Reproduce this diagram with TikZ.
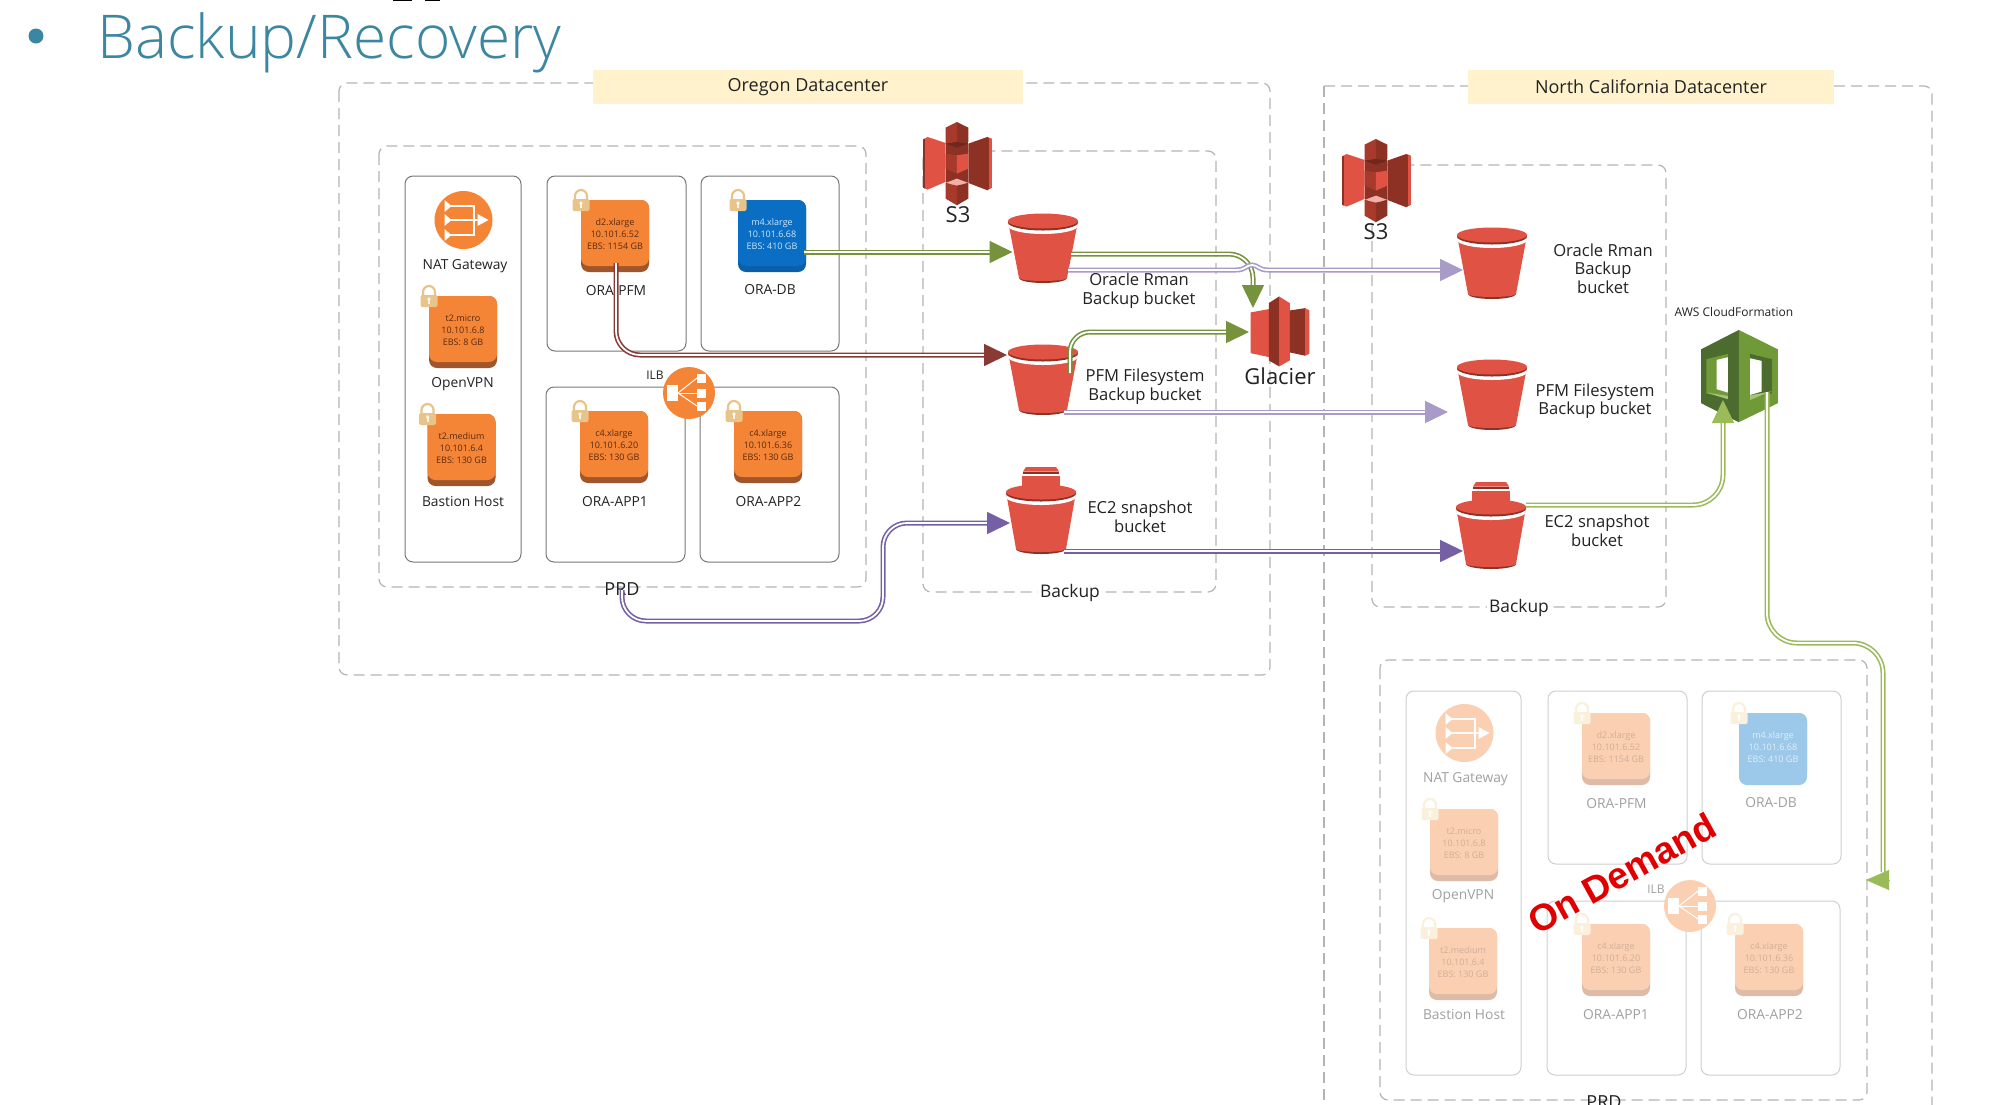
\documentclass[tikz,border=0pt]{standalone}
\usepackage{fontspec}
\usetikzlibrary{arrows.meta}
\setmainfont{Open Sans}
\newfontfamily\titlefont{Open Sans Light}
\newfontfamily\demandfont{Liberation Sans}
\definecolor{awsred}{HTML}{E05243}
\definecolor{awsdark}{HTML}{8C3123}
\definecolor{awsmid}{HTML}{A83A2B}
\definecolor{awspink}{HTML}{F2B0A9}
\definecolor{orface}{HTML}{F58536}
\definecolor{orshade}{HTML}{A0562A}
\definecolor{orlock}{HTML}{E8C48A}
\definecolor{ortext}{HTML}{5A2A10}
\definecolor{blface}{HTML}{0A6EC4}
\definecolor{blshade}{HTML}{0A5FA8}
\definecolor{bllock}{HTML}{E8C48A}
\definecolor{bltext}{HTML}{CFE6FA}
\definecolor{faface}{HTML}{FBD0B2}
\definecolor{fashade}{HTML}{DDBBA6}
\definecolor{falock}{HTML}{FBF0DC}
\definecolor{fatext}{HTML}{CFAE98}
\definecolor{fbface}{HTML}{9CC8E9}
\definecolor{fbshade}{HTML}{9CC8E9}
\definecolor{fblock}{HTML}{FBF0DC}
\definecolor{fbtext}{HTML}{E2EFF9}
\definecolor{headband}{HTML}{FFF2CC}
\definecolor{dashgray}{HTML}{B4B4B4}
\definecolor{boxgray}{HTML}{777777}
\definecolor{fadebox}{HTML}{CFCFCF}
\definecolor{txt}{HTML}{222222}
\definecolor{fadetxt}{HTML}{A0A0A0}
\definecolor{titleblue}{HTML}{3B86A0}
\definecolor{cgreen}{HTML}{76923C}
\definecolor{clgreen}{HTML}{9BBB59}
\definecolor{clpurple}{HTML}{A99BC8}
\definecolor{cpurple}{HTML}{7560A5}
\definecolor{cred}{HTML}{8A3A34}
\definecolor{cfdark}{HTML}{4C6B2F}
\definecolor{cflight}{HTML}{6F9A37}
\definecolor{cfpale}{HTML}{A5C478}
\tikzset{
  zone/.style={draw=dashgray,line width=.6pt,dash pattern=on 5.5pt off 3pt,rounded corners=4pt},
  hostbox/.style={draw=boxgray,line width=.5pt,rounded corners=4pt},
  fadehost/.style={draw=fadebox,line width=.5pt,rounded corners=4pt},
  band/.style={fill=headband,draw=none,minimum height=16.8pt,inner sep=0pt,font=\fontsize{9}{10}\selectfont,text=txt},
  lab/.style={font=\fontsize{6.9}{8.5}\selectfont,text=txt,inner sep=0pt},
  flab/.style={lab,text=fadetxt},
  blab/.style={font=\fontsize{8.3}{9.3}\selectfont,text=txt,inner sep=0pt,align=center},
  tinylab/.style={font=\fontsize{6}{7}\selectfont,text=txt,inner sep=0pt},
  conn/.style={line width=.8pt,double=white,double distance=.9pt,-{Triangle[length=11.5pt,width=11pt]},rounded corners=#1},
  conn/.default=12pt,
}
% name, left, top, colour prefix, text
\newcommand\hostinst[5]{%
  \fill[#4shade,rounded corners=4pt] (#2,#3) rectangle ++(68,72);
  \fill[#4face,rounded corners=4pt] (#2,#3) rectangle ++(68,66);
  \node[inner sep=0pt,align=center,text=#4text,font=\fontsize{4.5}{6}\selectfont] (#1) at (#2+34,#3+34.5) {#5};
  \draw[#4lock,line width=1.1pt] (#2-6,#3) -- (#2-6,#3-4) arc[start angle=180,end angle=360,radius=6] -- (#2+6,#3);
  \fill[#4lock,rounded corners=1pt] (#2-8.5,#3-1) rectangle ++(17,12);
  \fill[white,opacity=.8] (#2,#3+3) circle[radius=1.8];
  \fill[white,opacity=.8] (#2-1,#3+3) rectangle ++(2,5);
}
\newcommand\natglyph[3]{%
  \fill[#3] (#1,#2) circle[radius=29];
  \begin{scope}[shift={(#1,#2)}]
    \draw[white,line width=1pt] (-13,-14) -- (10,-14) -- (10,15) -- (-13,15) (-13,0) -- (15,0);
    \fill[white] (14,-6) -- (25,0) -- (14,6) -- cycle;
    \foreach \r in {-14,0,15} \fill[white] (-19,\r-6) -- (-12,\r) -- (-19,\r+6) -- cycle;
  \end{scope}
}
\newcommand\ilbglyph[3]{%
  \fill[#3] (#1,#2) circle[radius=26];
  \begin{scope}[shift={(#1,#2)}]
    \fill[white] (-22,-8) rectangle (-11,8);
    \foreach \r in {-15,0,13} {
      \fill[white] (8,\r-4.5) rectangle (17,\r+4.5);
      \draw[white,line width=.5pt] (-11,0) -- (8,\r);
    }
  \end{scope}
}
\newcommand\bucket[4]{% cx, cy, bottom, half width of bottom
  \fill[awsdark] (#1-#4,#3-5) arc[start angle=180,end angle=0,x radius=#4,y radius=5] -- cycle;
  \fill[awsred] (#1-35,#2) -- (#1-#4,#3-5) arc[start angle=180,end angle=0,x radius=#4,y radius=3] -- (#1+35,#2) -- cycle;
  \begin{scope}
    \clip (#1-35,#2) -- (#1-#4,#3-5) -- (#1+#4,#3-5) -- (#1+35,#2) -- (#1+35,#2-12) -- (#1-35,#2-12) -- cycle;
    \fill[white] (#1,#2+4) ellipse[x radius=36,y radius=9];
  \end{scope}
  \fill[awsdark] (#1,#2+1.5) ellipse[x radius=35,y radius=8];
  \fill[awsred] (#1,#2) ellipse[x radius=35,y radius=7.5];
}
\newcommand\lid[2]{%
  \fill[awsred] (#1-19,#2-18) rectangle (#1+19,#2);
  \fill[white] (#1-19,#2-18.5) rectangle (#1+19,#2-16.5);
  \fill[awsdark] (#1-18,#2-20.5) rectangle (#1+18,#2-18.5);
  \fill[awsred] (#1-15,#2-25) -- (#1+15,#2-25) -- (#1+18,#2-20.5) -- (#1-18,#2-20.5) -- cycle;
}
\newcommand\sthree[2]{%
  \begin{scope}[shift={(#1,#2)},xscale=.357,yscale=.333,shift={(-65,-65)}]
    \fill[awsred] (65,118) -- (78,110) -- (128,128) -- (128,245) -- (78,268) -- (65,262) -- cycle;
    \fill[awsdark] (65,118) -- (70,115) -- (70,265) -- (65,262) -- cycle;
    \fill[awsdark] (192,130) -- (245,110) -- (258,116) -- (258,262) -- (245,270) -- (192,248) -- cycle;
    \fill[awsred] (250,112) -- (258,116) -- (258,262) -- (250,266) -- cycle;
    \fill[awsdark] (128,120) rectangle (192,250);
    \fill[awsmid] (128,82) -- (160,65) -- (160,125) -- (128,130) -- cycle;
    \fill[awsdark] (160,65) -- (192,82) -- (192,125) -- (160,125) -- cycle;
    \fill[awsdark!80!black] (128,130) -- (160,125) -- (192,130) -- (160,142) -- cycle;
    \fill[awsmid] (128,160) -- (160,165) -- (160,220) -- (128,205) -- cycle;
    \fill[awsred] (160,165) -- (192,160) -- (192,205) -- (160,220) -- cycle;
    \fill[awspink] (128,248) -- (160,235) -- (192,248) -- (160,256) -- cycle;
    \fill[awsmid] (128,248) -- (160,256) -- (160,315) -- (128,295) -- cycle;
    \fill[awsdark] (160,256) -- (192,248) -- (192,295) -- (160,315) -- cycle;
  \end{scope}
}
\begin{document}
\begin{tikzpicture}[x=.5pt,y=-.5pt]
\useasboundingbox (0,0) rectangle (1992,1104);
\clip (0,0) rectangle (1992,1104);
\fill[white] (0,0) rectangle (1992,1104);
% title
\fill[titleblue] (36,36) ellipse[x radius=7.5,y radius=7.5];
\node[anchor=base west,inner sep=0pt,text=titleblue,font=\titlefont\fontsize{30.2}{34}\selectfont] (title) at (97,58) {Backup/Recovery};
\fill[black] (393,0) rectangle (412,1);
\fill[black] (425,0) rectangle (440,1);
% datacentre zones
\draw[zone] (339,83) rectangle (1270,675);
\draw[zone] (1324,86) -- (1324,1110);
\draw[zone] (1324,86) -- (1932,86) -- (1932,1110);
\draw[zone] (379,146) rectangle (866,587);
\draw[zone] (923,151) rectangle (1216,592);
\draw[zone] (1372,165) rectangle (1666,607);
\draw[zone] (1380,660) rectangle (1867,1100);
\node[band,minimum width=215pt] (oregon) at (808,87) {Oregon Datacenter};
\node[band,minimum width=183pt] (ncal) at (1651,87) {North California Datacenter};
% Oregon hosts
\draw[hostbox] (405,176) rectangle (521,562);
\draw[hostbox] (547,176) rectangle (686,351);
\draw[hostbox] (701,176) rectangle (839,351);
\draw[hostbox] (546,387) rectangle (685,562);
\draw[hostbox] (700,387) rectangle (839,562);
\natglyph{463.5}{220}{orface}
\node[lab] (nat) at (465,266) {NAT Gateway};
\hostinst{vpn}{429}{296}{or}{t2.micro\\10.101.6.8\\EBS: 8 GB}
\node[lab] (vpnl) at (462.5,384) {OpenVPN};
\hostinst{bast}{427.5}{414}{or}{t2.medium\\10.101.6.4\\EBS: 130 GB}
\node[lab] (bastl) at (463,501) {Bastion Host};
\hostinst{pfm}{581}{200}{or}{d2.xlarge\\10.101.6.52\\EBS: 1154 GB}
\node[lab] (pfml) at (616,291) {ORA-PFM};
\hostinst{db}{738}{200}{bl}{m4.xlarge\\10.101.6.68\\EBS: 410 GB}
\node[lab] (dbl) at (770,290) {ORA-DB};
\hostinst{app1}{580}{411}{or}{c4.xlarge\\10.101.6.20\\EBS: 130 GB}
\node[lab] (app1l) at (615,502) {ORA-APP1};
\hostinst{app2}{734}{411}{or}{c4.xlarge\\10.101.6.36\\EBS: 130 GB}
\node[lab] (app2l) at (768.5,502) {ORA-APP2};
\ilbglyph{689}{393}{orface}
\node[tinylab] (ilb) at (655,375) {ILB};
\node[font=\fontsize{9}{10}\selectfont,text=txt,inner sep=0pt] (prd) at (622,589) {PRD};
% on-demand hosts
\draw[fadehost] (1406,691) rectangle (1521,1075);
\draw[fadehost] (1548,691) rectangle (1687,864);
\draw[fadehost] (1702,691) rectangle (1841,864);
\draw[fadehost] (1547,901) rectangle (1686,1075);
\draw[fadehost] (1701,901) rectangle (1840,1075);
\natglyph{1464.5}{733}{faface}
\node[flab] (fnat) at (1465.5,779) {NAT Gateway};
\hostinst{fvpn}{1430}{809}{fa}{t2.micro\\10.101.6.8\\EBS: 8 GB}
\node[flab] (fvpnl) at (1463,896) {OpenVPN};
\hostinst{fbast}{1429}{928}{fa}{t2.medium\\10.101.6.4\\EBS: 130 GB}
\node[flab] (fbastl) at (1464,1014) {Bastion Host};
\hostinst{fpfm}{1582}{713}{fa}{d2.xlarge\\10.101.6.52\\EBS: 1154 GB}
\node[flab] (fpfml) at (1616.5,804) {ORA-PFM};
\hostinst{fdb}{1739}{713}{fb}{m4.xlarge\\10.101.6.68\\EBS: 410 GB}
\node[flab] (fdbl) at (1771,803) {ORA-DB};
\hostinst{fapp1}{1582}{924}{fa}{c4.xlarge\\10.101.6.20\\EBS: 130 GB}
\node[flab] (fapp1l) at (1616,1015) {ORA-APP1};
\hostinst{fapp2}{1735}{924}{fa}{c4.xlarge\\10.101.6.36\\EBS: 130 GB}
\node[flab] (fapp2l) at (1770,1015) {ORA-APP2};
\ilbglyph{1690}{906}{faface}
\node[tinylab,text=fadetxt] (filb) at (1656,889) {ILB};
\node[font=\fontsize{9}{10}\selectfont,text=txt,inner sep=0pt,anchor=north] (fprd) at (1604,1095) {PRD};
% S3, Glacier
\sthree{923}{122}
\node[font=\fontsize{11}{12}\selectfont,text=txt,inner sep=0pt] (s3a) at (958,215) {S3};
\sthree{1342}{139}
\node[font=\fontsize{11}{12}\selectfont,text=txt,inner sep=0pt] (s3b) at (1376,232) {S3};
\begin{scope}[shift={(900,100)},xscale=.357,yscale=.333]
  \fill[awsred] (982,638) -- (1033,628) -- (1033,772) -- (982,760) -- cycle;
  \fill[awsdark] (1033,610) -- (1062,590) -- (1062,800) -- (1033,782) -- cycle;
  \fill[awsred] (1062,590) -- (1092,610) -- (1092,782) -- (1062,800) -- cycle;
  \fill[awsdark] (1092,632) -- (1135,625) -- (1135,768) -- (1092,758) -- cycle;
  \fill[awsred] (1135,625) -- (1147,632) -- (1147,762) -- (1135,768) -- cycle;
\end{scope}
\node[font=\fontsize{11}{12}\selectfont,text=txt,inner sep=0pt] (glacier) at (1280,376) {Glacier};
% buckets
\bucket{1043}{221}{283}{24}
\bucket{1043}{352}{415}{24}
\lid{1041}{492}
\bucket{1041}{492}{554}{25}
\bucket{1492}{235}{299}{24}
\bucket{1492}{367}{430}{24}
\lid{1491}{507}
\bucket{1491}{507}{569}{25}
\node[blab] (l1) at (1139,290.5) {Oracle Rman\\Backup bucket};
\node[blab] (l2) at (1145,386.5) {PFM Filesystem\\Backup bucket};
\node[blab] (l3) at (1140,516.5) {EC2 snapshot\\bucket};
\node[blab] (r1) at (1603,268.5) {Oracle Rman\\Backup\\bucket};
\node[blab] (r2) at (1595,401) {PFM Filesystem\\Backup bucket};
\node[blab] (r3) at (1597,531) {EC2 snapshot\\bucket};
\node[font=\fontsize{8.7}{10}\selectfont,text=txt,fill=white,inner sep=1pt] (bk1) at (1070,593) {Backup};
\node[font=\fontsize{8.7}{10}\selectfont,text=txt,fill=white,inner sep=1pt] (bk2) at (1519,608) {Backup};
% CloudFormation
\node[tinylab] (cfl) at (1734,312) {AWS CloudFormation};
\begin{scope}[shift={(1400,280)},xscale=.345,yscale=.333]
  \fill[cfdark] (982,150) -- (982,427) -- (873,370) -- (873,208) -- cycle;
  \fill[cflight] (982,150) -- (982,427) -- (1095,370) -- (1095,208) -- cycle;
  \fill[cflight] (888,238) -- (950,222) -- (950,355) -- (888,340) -- cycle;
  \fill[white] (918,240) -- (950,232) -- (950,338) -- (918,328) -- cycle;
  \fill[cfpale] (888,338) -- (950,348) -- (950,358) -- cycle;
  \fill[cfdark] (1015,222) -- (1078,238) -- (1078,340) -- (1015,355) -- cycle;
  \fill[white] (1015,235) -- (1048,243) -- (1048,335) -- (1015,345) -- cycle;
  \fill[cfpale] (1015,346) -- (1078,334) -- (1015,360) -- cycle;
\end{scope}
% connector ends
\coordinate (dbout) at (804,252);
\coordinate (b1in) at (1012.5,252);
\coordinate (b1g) at (1071,254);
\coordinate (b1gc) at (1253,254);
\coordinate (glaciertop) at (1253,308);
\coordinate (b2g) at (1070,373);
\coordinate (b2gc) at (1070,332);
\coordinate (glacierl) at (1249,332);
\coordinate (pfmout) at (616,263);
\coordinate (pfmc) at (616,355);
\coordinate (b2in) at (1007,355);
\coordinate (prdout) at (622,590);
\coordinate (pc1) at (622,621);
\coordinate (pc2) at (883,621);
\coordinate (pc3) at (883,523);
\coordinate (b3in) at (1010,523);
\coordinate (b1p) at (1068,270);
\coordinate (rb1) at (1463,270);
\coordinate (b2p) at (1064,412);
\coordinate (rb2) at (1448,412);
\coordinate (b3p) at (1064,551);
\coordinate (rb3) at (1463,551);
\coordinate (rb3g) at (1526,505);
\coordinate (cfc) at (1723,505);
\coordinate (cfin) at (1723,400);
\coordinate (cfout) at (1767,392);
\coordinate (cf1) at (1767,643);
\coordinate (cf2) at (1883,643);
\coordinate (cf3) at (1883,872);
\coordinate (headbase) at (1889,880);
\coordinate (headtip) at (1866,880);
% connectors
\draw[conn,cgreen] (dbout) -- (b1in);
\draw[conn,cgreen] (b1g) -- (b1gc) -- (glaciertop);
\draw[conn=10pt,cgreen] (b2g) -- (b2gc) -- (glacierl);
\draw[conn,cred] (pfmout) -- (pfmc) -- (b2in);
\draw[conn,cpurple] (prdout) -- (pc1) -- (pc2) -- (pc3) -- (b3in);
\draw[line width=.8pt,double=white,double distance=.9pt,-{Triangle[length=11.5pt,width=11pt]},clpurple] (b1p) -- (1236,270) .. controls (1246,270) and (1246,265) .. (1252,265) .. controls (1258,265) and (1258,270) .. (1268,270) -- (rb1);
\draw[conn,clpurple] (b2p) -- (rb2);
\draw[conn,cpurple] (b3p) -- (rb3);
\draw[conn=15pt,clgreen] (rb3g) -- (cfc) -- (cfin);
\draw[line width=.8pt,double=white,double distance=.9pt,rounded corners=15pt,clgreen] (cfout) -- (cf1) -- (cf2) -- (cf3);
\draw[-{Triangle[length=11.5pt,width=10pt]},clgreen,line width=.1pt] (headbase) -- (headtip);
% on demand stamp
\node[rotate=29,text=red!88!black,inner sep=0pt,font=\demandfont\bfseries\fontsize{18.6}{22}\selectfont] (demand) at (1622,873) {On Demand};
\end{tikzpicture}
\end{document}
